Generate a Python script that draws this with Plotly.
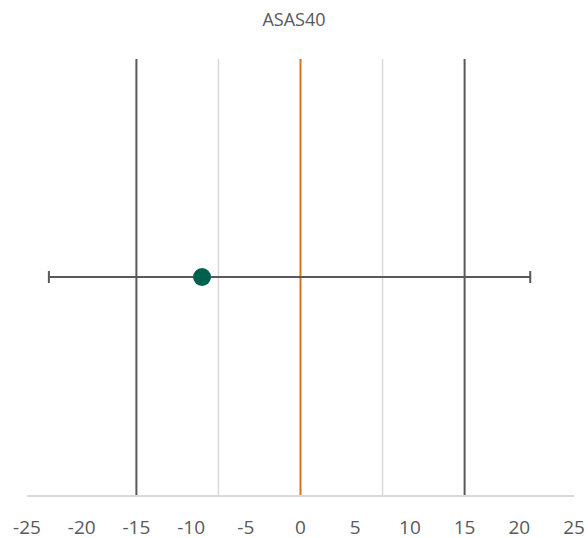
import plotly.graph_objects as go

# Data
title_text = "ASAS40"
point_x = [-9]
point_y = [1]
ci_low = [-23]
ci_high = [21]
ref_lines_dark = [-15, 15]
ref_lines_light = [-7.5, 7.5]
ref_line_zero = [0]
x_ticks = [-25, -20, -15, -10, -5, 0, 5, 10, 15, 20, 25]
y_span = [0, 2]

fig = go.Figure()

def vline(xv, color, width):
    fig.add_trace(go.Scatter(x=[xv, xv], y=y_span, mode="lines",
                             line=dict(color=color, width=width),
                             hoverinfo="skip", showlegend=False))

for v in ref_lines_light:
    vline(v, "#d9d9d9", 1.5)
for v in ref_lines_dark:
    vline(v, "#595959", 2)
for v in ref_line_zero:
    vline(v, "#d9731f", 2)

fig.add_trace(go.Scatter(
    x=point_x, y=point_y, mode="markers",
    marker=dict(color="#00604f", size=18),
    error_x=dict(type="data", symmetric=False,
                 array=[h - p for h, p in zip(ci_high, point_x)],
                 arrayminus=[p - l for p, l in zip(point_x, ci_low)],
                 color="#595959", thickness=2, width=6),
    showlegend=False))

fig.update_layout(
    width=588, height=538,
    margin=dict(l=27, r=14, t=59, b=43, autoexpand=False),
    plot_bgcolor="white", paper_bgcolor="white",
    title=dict(text=title_text, x=0.5, xanchor="center", y=0.963, yanchor="middle",
               font=dict(family="Open Sans", size=18, color="#595959")),
    xaxis=dict(range=[-25, 25], tickvals=x_ticks, ticktext=[str(t) for t in x_ticks],
               showgrid=False, zeroline=False, showline=True, linecolor="#d9d9d9",
               linewidth=1.5, ticks="", ticklabelstandoff=14, automargin=False,
               tickfont=dict(family="Open Sans", size=19, color="#595959")),
    yaxis=dict(range=y_span, visible=False, showgrid=False, zeroline=False),
)

fig.write_html("out.html", config={"displayModeBar": False})

# remove the default page margin so the figure sits at the window's corner
with open("out.html", "r", encoding="utf-8") as f:
    html = f.read()
html = html.replace("<body>", '<body style="margin:0;overflow:hidden">', 1)
with open("out.html", "w", encoding="utf-8") as f:
    f.write(html)
